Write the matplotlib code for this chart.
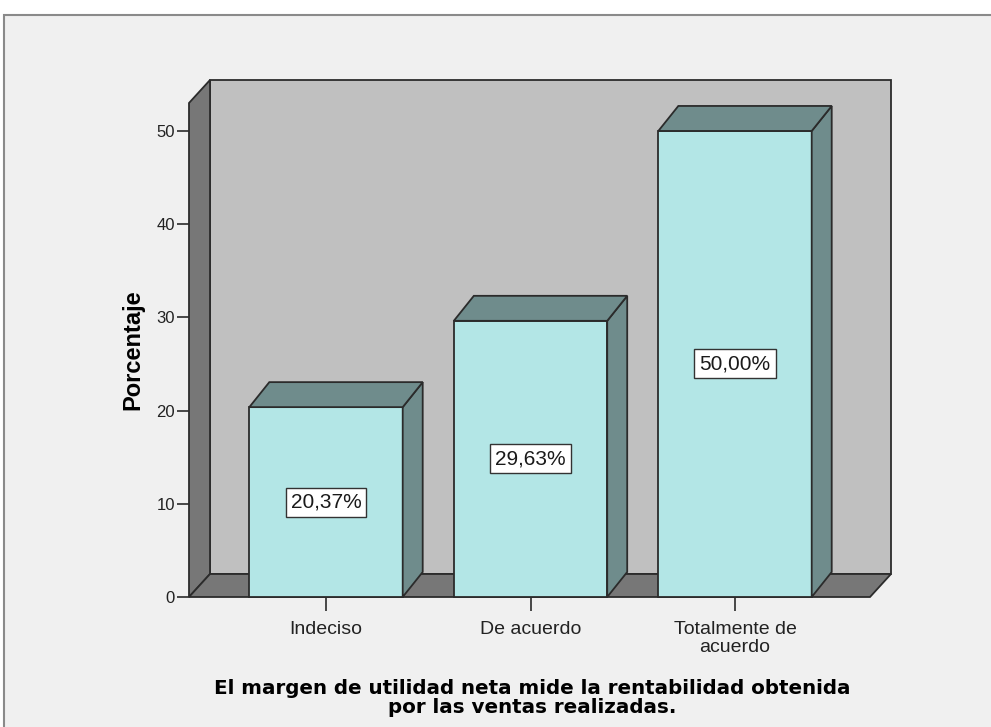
import matplotlib.pyplot as plt
from matplotlib.patches import Polygon, Rectangle

categories = ["Indeciso", "De acuerdo", "Totalmente de\nacuerdo"]
percentages = [20.37, 29.63, 50.00]
yticks = [0, 10, 20, 30, 40, 50]

plt.rcParams["font.family"] = ["Liberation Sans", "DejaVu Sans"]

W, H = 991, 727
fig = plt.figure(figsize=(W / 100, H / 100), dpi=100)
fig.patch.set_facecolor("white")

# outer frame of the chart, kept behind the axes
frame = Rectangle((4 / W, -0.01), 1, 1.01 - 15 / H, transform=fig.transFigure,
                  facecolor="#f0f0f0", edgecolor="#8a8a8a", linewidth=1.5, zorder=-10)
fig.patches.append(frame)

x0, x1 = -0.67, 2.66
y0, y1 = 0, 53
ax = fig.add_axes([189 / W, 1 - 597 / H, (870 - 189) / W, (597 - 103) / H])
ax.set_xlim(x0, x1)
ax.set_ylim(y0, y1)
ax.patch.set_visible(False)
for s in ax.spines.values():
    s.set_visible(False)

# depth offsets, pixels -> data units
px_x = (x1 - x0) / (870 - 189)
px_y = (y1 - y0) / (597 - 103)
wdx, wdy = 21 * px_x, 23 * px_y
bdx, bdy = 20 * px_x, 25 * px_y

edge = "#2b2b2b"
lw = 1.3

def poly(pts, fc, z):
    ax.add_patch(Polygon(pts, closed=True, facecolor=fc, edgecolor=edge,
                         linewidth=lw, clip_on=False, zorder=z))

# back wall, left wall and floor
poly([(x0 + wdx, wdy), (x1 + wdx, wdy), (x1 + wdx, y1 + wdy), (x0 + wdx, y1 + wdy)], "#c0c0c0", 1)
poly([(x0, 0), (x0 + wdx, wdy), (x0 + wdx, y1 + wdy), (x0, y1)], "#777777", 2)
poly([(x0, 0), (x1, 0), (x1 + wdx, wdy), (x0 + wdx, wdy)], "#777777", 2)

# bars with side and top faces
width = 0.75
front = "#b3e6e6"
shade = "#6f8c8c"
for i, v in enumerate(percentages):
    l, r = i - width / 2, i + width / 2
    poly([(l, 0), (r, 0), (r, v), (l, v)], front, 3)
    poly([(r, 0), (r + bdx, bdy), (r + bdx, v + bdy), (r, v)], shade, 3)
    poly([(l, v), (r, v), (r + bdx, v + bdy), (l + bdx, v + bdy)], shade, 3)
    ax.text(i, v / 2, f"{v:.2f}".replace(".", ",") + "%", ha="center", va="center",
            fontsize=15, color="#1a1a1a", zorder=5,
            bbox=dict(boxstyle="square,pad=0.24", facecolor="white",
                      edgecolor="#333333", linewidth=1))

ax.set_yticks(yticks)
ax.set_yticklabels([str(t) for t in yticks], fontsize=12, color="#222222")
ax.set_xticks(range(len(categories)))
ax.set_xticklabels(categories, fontsize=14, color="#222222", linespacing=1.1)
ax.tick_params(axis="y", length=9, width=1.2, color=edge, pad=1)
ax.tick_params(axis="x", length=10, width=1.2, color=edge, pad=7)
ax.set_ylabel("Porcentaje", fontsize=17, fontweight="bold", labelpad=9)

fig.text(532 / W, 1 - 698 / H,
         "El margen de utilidad neta mide la rentabilidad obtenida\npor las ventas realizadas.",
         ha="center", va="center", fontsize=14.3, fontweight="bold",
         family="DejaVu Sans", linespacing=0.95)

fig.savefig("out.png", dpi=100)
